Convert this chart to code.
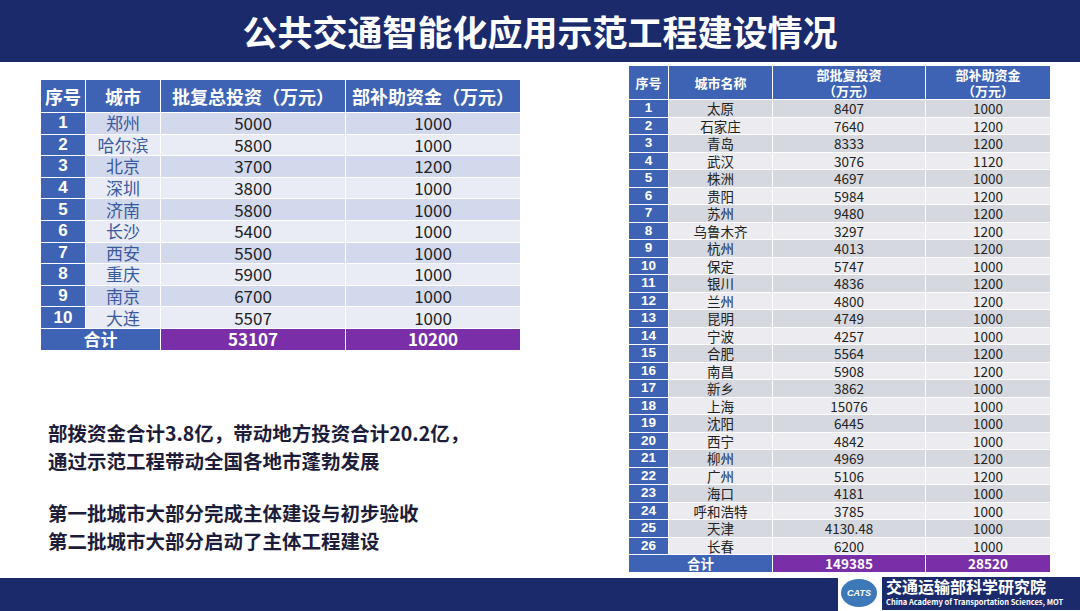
<!DOCTYPE html>
<html><head><meta charset="utf-8">
<script src="https://cdn.jsdelivr.net/npm/chart.js@4"></script>
<style>
body{margin:0;width:1080px;height:611px;position:relative;background:#fff;font-family:"Noto Sans CJK SC","Noto Sans",sans-serif;overflow:hidden}
#top{position:absolute;left:0;top:0;width:1080px;height:62px;background:#1b2a6b;color:#fff;font-size:35px;font-weight:bold;text-align:center;line-height:62px}
#bot{position:absolute;left:0;top:578px;width:1080px;height:33px;background:#1b2a6b}
#logo{position:absolute;left:838px;top:576px;width:242px;height:35px;background:#fff}
#logo .c{position:absolute;left:3px;top:3px;width:36px;height:28px;border-radius:50%;background:#3d78b8;color:#fff;font:bold italic 9px sans-serif;text-align:center;line-height:28px}
#logo .t{position:absolute;left:44px;top:1px;height:33px;right:0;background:#1b2a6b;color:#fff}
#logo .t b{display:block;font-size:16px;line-height:19px;padding-left:4px}
#logo .t i{display:block;font-style:normal;font-size:7.5px;font-weight:bold;padding-left:4px}
table{position:absolute;border-collapse:collapse;table-layout:fixed}
td{border:1px solid #fff;text-align:center;padding:0;white-space:nowrap;color:#222;font-family:"Noto Sans CJK SC",sans-serif;overflow:hidden}
td.n{background:#3e63b4;color:#fff;font-weight:bold;font-family:"Liberation Sans",sans-serif}
td.h{background:#3e63b4;color:#fff;font-weight:bold}
td.p{background:#7a2fa8;color:#fff;font-weight:bold}
td.c1{color:#3a5a9e}
#T1 td{font-size:17px;height:20.6px;line-height:20px}
#T1 tr.hd td{height:32px;font-size:18px}
#T2 td{font-size:13.5px;height:16.5px;line-height:16px}
#T2 tr.hd td{height:33px;line-height:16px;font-size:13px}
.txt{position:absolute;left:48px;font-size:19.5px;font-weight:bold;color:#1d1d3a}
</style></head><body>
<div id="top">公共交通智能化应用示范工程建设情况</div>
<div id="bot"></div>
<div id="logo"><div class="c">CATS</div><div class="t"><b>交通运输部科学研究院</b><i>China Academy of Transportation Sciences, MOT</i></div></div>
<table id="T1" style="left:40px;top:79px;width:480px"></table>
<table id="T2" style="left:628px;top:65px;width:422px"></table>
<div class="txt" style="top:418px">部拨资金合计3.8亿，带动地方投资合计20.2亿，</div>
<div class="txt" style="top:446px">通过示范工程带动全国各地市蓬勃发展</div>
<div class="txt" style="top:498px">第一批城市大部分完成主体建设与初步验收</div>
<div class="txt" style="top:526px">第二批城市大部分启动了主体工程建设</div>
<script>
'use strict';
var cities1 = ["郑州","哈尔滨","北京","深圳","济南","长沙","西安","重庆","南京","大连"];
var invest1 = [5000,5800,3700,3800,5800,5400,5500,5900,6700,5507];
var subsidy1 = [1000,1000,1200,1000,1000,1000,1000,1000,1000,1000];
var total1 = ["53107","10200"];
var cities2 = ["太原","石家庄","青岛","武汉","株洲","贵阳","苏州","乌鲁木齐","杭州","保定","银川","兰州","昆明","宁波","合肥","南昌","新乡","上海","沈阳","西宁","柳州","广州","海口","呼和浩特","天津","长春"];
var invest2 = ["8407","7640","8333","3076","4697","5984","9480","3297","4013","5747","4836","4800","4749","4257","5564","5908","3862","15076","6445","4842","4969","5106","4181","3785","4130.48","6200"];
var subsidy2 = [1000,1200,1200,1120,1000,1200,1200,1200,1200,1000,1200,1200,1000,1000,1200,1200,1000,1000,1000,1000,1200,1200,1000,1000,1000,1000];
var total2 = ["149385","28520"];

function build(id, heads, widths, cities, inv, sub, tot, rowA, rowB, cityCls) {
  var h = '<colgroup>' + widths.map(function(w){return '<col style="width:'+w+'px">';}).join('') + '</colgroup>';
  h += '<tr class="hd">' + heads.map(function(t){return '<td class="h">'+t+'</td>';}).join('') + '</tr>';
  cities.forEach(function(c, i) {
    var bg = i % 2 ? rowB : rowA;
    h += '<tr><td class="n">'+(i+1)+'</td><td class="'+cityCls+'" style="background:'+bg+'">'+c+'</td>'+
      '<td style="background:'+bg+'">'+inv[i]+'</td><td style="background:'+bg+'">'+sub[i]+'</td></tr>';
  });
  h += '<tr><td class="h" colspan="2">合计</td><td class="p">'+tot[0]+'</td><td class="p">'+tot[1]+'</td></tr>';
  document.getElementById(id).innerHTML = h;
}
build('T1', ['序号','城市','批复总投资（万元）','部补助资金（万元）'], [45,75,185,175],
  cities1, invest1, subsidy1, total1, '#d3d9ec', '#e9ecf5', 'c1');
build('T2', ['序号','城市名称','部批复投资<br>（万元）','部补助资金<br>（万元）'], [40,104,153,125],
  cities2, invest2, subsidy2, total2, '#d6d8e0', '#ececf0', '');
</script>
</body></html>
